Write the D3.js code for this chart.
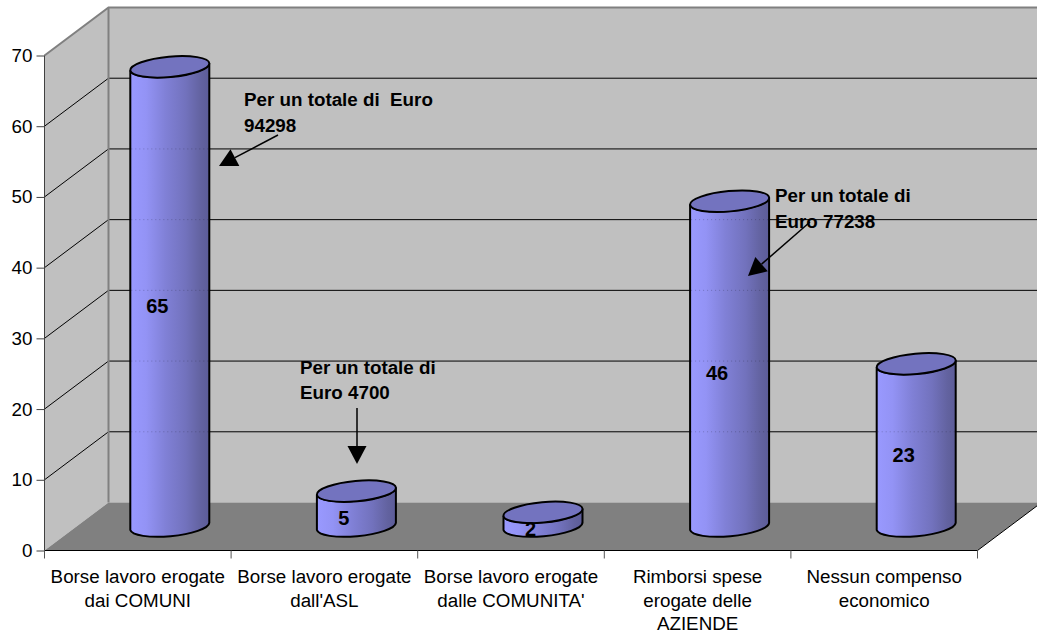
<!DOCTYPE html>
<html><head><meta charset="utf-8">
<script src="https://cdn.jsdelivr.net/npm/d3@7"></script>
<style>html,body{margin:0;padding:0;background:#fff}svg{display:block}text{font-family:"Liberation Sans",Arial,sans-serif;fill:#000;white-space:pre}</style>
</head><body><svg id="c" width="1037" height="633"></svg>
<script>
const categories = [
  ["Borse lavoro erogate","dai COMUNI"],
  ["Borse lavoro erogate","dall'ASL"],
  ["Borse lavoro erogate","dalle COMUNITA'"],
  ["Rimborsi spese","erogate delle","AZIENDE"],
  ["Nessun compenso","economico"]
];
const values = [65,5,2,46,23];
const yTicks = [0,10,20,30,40,50,60,70];
const noteLines = [
  ["Per un totale di  Euro","94298"],
  ["Per un totale di","Euro 4700"],
  ["Per un totale di","Euro 77238"]
];

const svg = d3.select("#c");
const W = 1037, FS = 18.8;
const x0 = 44.5, x1 = 977.5, y0 = 550.5, y70 = 55.5;
const dx = 64, dy = -48;
const x = d3.scaleBand().domain(d3.range(values.length)).range([x0,x1]);
const y = d3.scaleLinear().domain([0,70]).range([y0,y70]);

// walls and floor
const backL = x0+dx, backB = y0+dy, backT = y70+dy;
svg.append("path").attr("d",`M${x0},${y0}L${x0},${y70}L${backL},${backT}L${backL},${backB}Z`).attr("fill","#c0c0c0");
svg.append("rect").attr("x",backL).attr("y",backT).attr("width",W-backL+2).attr("height",backB-backT).attr("fill","#c0c0c0");
svg.append("path").attr("d",`M${x0},${y0}L${backL},${backB}L${x1+dx},${backB}L${x1},${y0}Z`).attr("fill","#808080");

// gridlines
yTicks.slice(1,-1).forEach(t=>{
  svg.append("path").attr("fill","none").attr("stroke","#000").attr("stroke-width",1)
    .attr("d",`M${x0},${y(t)}L${backL},${y(t)+dy}L${W+2},${y(t)+dy}`);
});
svg.append("path").attr("fill","none").attr("stroke","#808080").attr("stroke-width",2)
  .attr("d",`M${x0},${y70}L${backL},${backT}L${W+2},${backT}M${backL},${backT}L${backL},${backB}`);
svg.append("path").attr("fill","none").attr("stroke","#000").attr("stroke-width",1)
  .attr("d",`M${x1},${y0}L${x1+dx-2},${y0+dy*(dx-2)/dx}`);

// gradient
const defs = svg.append("defs");
const g = defs.append("linearGradient").attr("id","cyl").attr("x1",0).attr("x2",1).attr("y1",0).attr("y2",0);
[[0,"#9999ff"],[.2,"#9393f5"],[.45,"#8080d6"],[.7,"#7272bd"],[.9,"#62629f"],[1,"#5c5c98"]]
  .forEach(s=>g.append("stop").attr("offset",s[0]).attr("stop-color",s[1]));

// cylinders
const rx = 39.5, ry = 10.2, tilt = -5.2;
const sl = Math.sin(-tilt*Math.PI/180)*rx;
values.forEach((v,i)=>{
  const cx = x(i)+x.bandwidth()/2+dx/2;
  const top = y(v)+dy/2, base = y(0)+dy/2;
  const L = cx-rx, R = cx+rx;
  svg.append("path").attr("fill","url(#cyl)").attr("stroke","#000").attr("stroke-width",2)
    .attr("d",`M${L},${top+sl}L${L},${base+sl}A${rx+.2},${ry},${tilt},0,0,${R},${base-sl}L${R},${top-sl}A${rx+.2},${ry},${tilt},0,1,${L},${top+sl}Z`);
  // faint trace of the gridlines showing through the body
  yTicks.slice(1,-1).map(t=>y(t)+dy).filter(gy=>gy>top+12 && gy<base).forEach(gy=>{
    svg.append("line").attr("x1",L+1).attr("x2",R-1).attr("y1",gy).attr("y2",gy)
      .attr("stroke","#000").attr("stroke-opacity",.22).attr("stroke-dasharray","1,3");
  });
  svg.append("ellipse").attr("transform",`translate(${cx},${top}) rotate(${tilt})`)
    .attr("rx",rx+.2).attr("ry",ry).attr("fill","#7373bf").attr("stroke","#000").attr("stroke-width",2);
  svg.append("text").attr("x",cx-12.5).attr("y",(top+base)/2+16.5).attr("text-anchor","middle")
    .attr("font-size",20).attr("font-weight","bold").text(v);
});

// axes
const axisY = d3.axisLeft(y).tickValues(yTicks).tickSize(8).tickPadding(4);
const ga = svg.append("g").attr("transform",`translate(${x0},0)`).call(axisY);
ga.select(".domain").attr("stroke","#404040").attr("d",`M0,${y70}L0,${y0}`);
ga.selectAll("line").attr("stroke","#404040");
ga.selectAll("text").attr("font-size",FS).attr("font-family",'"Liberation Sans",Arial,sans-serif');
svg.append("line").attr("x1",x0).attr("x2",x1).attr("y1",y0).attr("y2",y0).attr("stroke","#000");
d3.range(values.length+1).forEach(i=>{
  const tx = x0+i*x.bandwidth();
  svg.append("line").attr("x1",tx).attr("x2",tx).attr("y1",y0).attr("y2",y0+8).attr("stroke","#555");
});
categories.forEach((c,i)=>{
  const t = svg.append("text").attr("text-anchor","middle").attr("font-size",FS);
  c.forEach((s,j)=>t.append("tspan").attr("x",x(i)+x.bandwidth()/2).attr("y",583+j*23.5).text(s));
});

// annotations
const noteAt = [[244,106],[300,373.5],[775,202]];
noteLines.forEach((n,i)=>{
  const t = svg.append("text").attr("font-size",FS).attr("font-weight","bold");
  n.forEach((s,j)=>t.append("tspan").attr("x",noteAt[i][0]).attr("y",noteAt[i][1]+j*25.5).text(s));
});
const arrows = [[278,135,219,166],[357,408,357,464],[810,222,748,276]];
arrows.forEach(a=>{
  const ang = Math.atan2(a[3]-a[1],a[2]-a[0]), L=18, w=9.5;
  const bx=a[2]-L*Math.cos(ang), by=a[3]-L*Math.sin(ang);
  svg.append("line").attr("x1",a[0]).attr("y1",a[1]).attr("x2",bx).attr("y2",by).attr("stroke","#000").attr("stroke-width",1.5);
  svg.append("path").attr("d",`M${a[2]},${a[3]}L${bx-w*Math.sin(ang)},${by+w*Math.cos(ang)}L${bx+w*Math.sin(ang)},${by-w*Math.cos(ang)}Z`).attr("fill","#000");
});
</script></body></html>
